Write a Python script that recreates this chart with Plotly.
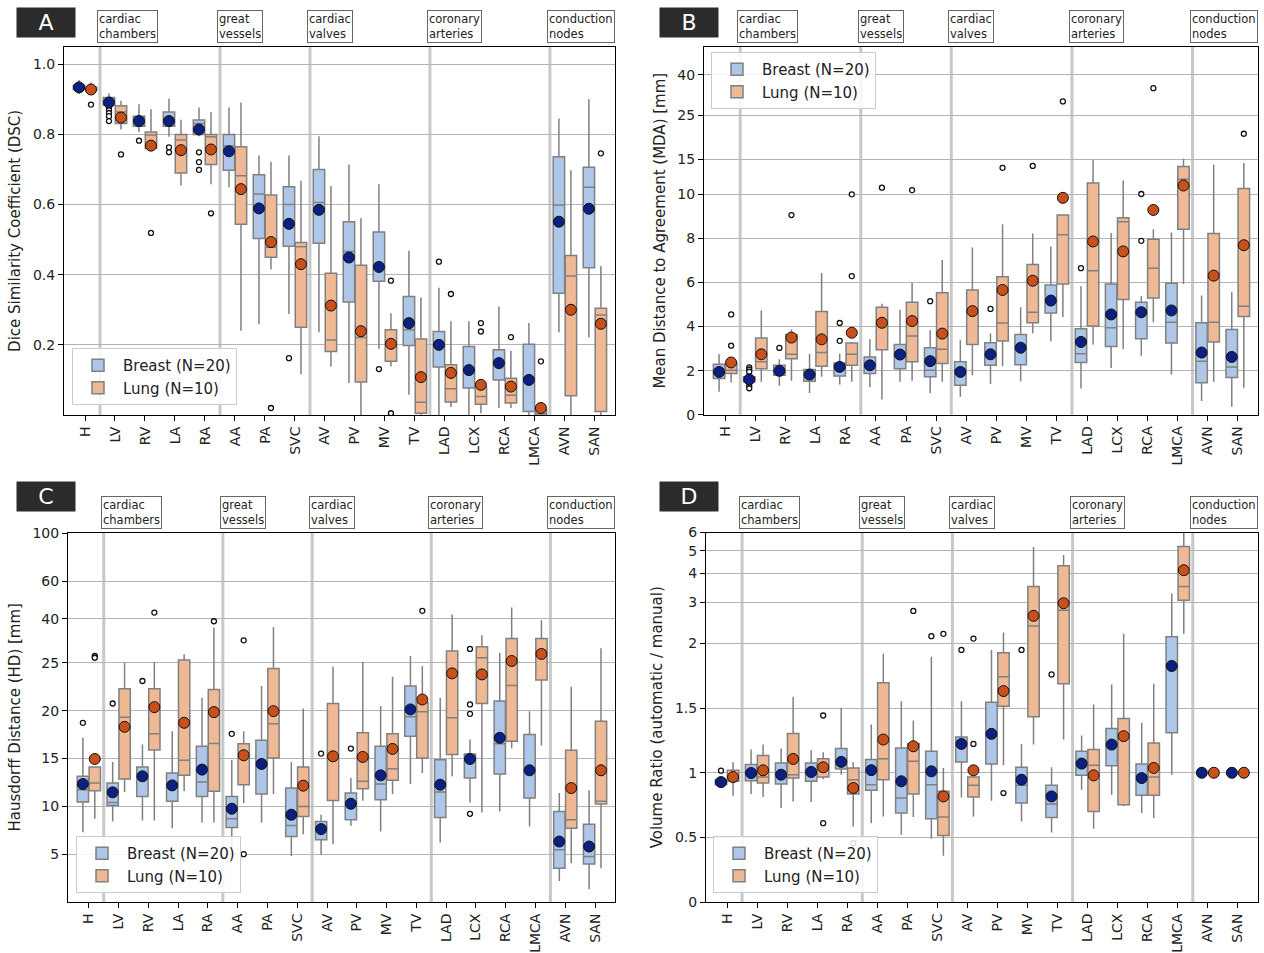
import numpy as np
import plotly.graph_objects as go

# ---------------- data ----------------
categories = ["H", "LV", "RV", "LA", "RA", "AA", "PA", "SVC", "AV", "PV", "MV", "TV",
              "LAD", "LCX", "RCA", "LMCA", "AVN", "SAN"]
group_labels = ["cardiac<br>chambers", "great<br>vessels", "cardiac<br>valves",
                "coronary<br>arteries", "conduction<br>nodes"]
group_first_index = [1, 5, 8, 12, 16]
series_names = ["Breast (N=20)", "Lung (N=10)"]

# Panel A: DSC
dsc_breast_q1 = [.928, .883, .823, .823, .800, .698, .503, .481, .490, .322, .381, .198, .137, .077, .100, .010, .347, .420]
dsc_breast_med = [.935, .895, .840, .845, .831, .767, .630, .600, .606, .466, .420, .243, .200, .128, .148, .100, .599, .649]
dsc_breast_q3 = [.940, .905, .852, .864, .841, .800, .685, .651, .700, .551, .522, .338, .238, .195, .186, .202, .736, .706]
dsc_breast_lo = [.915, .880, .807, .793, .795, .649, .259, .288, .236, .091, .188, .058, .000, .000, .020, .000, .236, .221]
dsc_breast_hi = [.955, .917, .886, .902, .877, .877, .740, .740, .795, .714, .658, .468, .363, .267, .309, .262, .845, .900]
dsc_breast_mean = [.934, .891, .838, .838, .814, .752, .589, .545, .585, .449, .422, .262, .200, .128, .148, .100, .551, .588]
dsc_breast_out = [[], [.876, .869, .861, .852, .838], [.782], [.763, .749], [.749, .721, .699], [], [], [.162],
                  [], [], [.131], [], [.437], [], [], [], [], []]

dsc_lung_q1 = [.925, .831, .760, .690, .714, .544, .450, .250, .181, .094, .153, .005, .037, .031, .034, .000, .055, .010]
dsc_lung_med = [.930, .864, .798, .784, .793, .682, .478, .480, .214, .221, .200, .036, .075, .053, .056, .005, .396, .285]
dsc_lung_q3 = [.935, .882, .807, .800, .800, .765, .627, .492, .404, .427, .243, .217, .143, .079, .105, .015, .455, .304]
dsc_lung_lo = [.918, .814, .752, .654, .658, .240, .415, .116, .138, .000, .138, .000, .023, .005, .020, .000, .000, .000]
dsc_lung_hi = [.948, .896, .872, .842, .864, .891, .722, .668, .653, .561, .290, .335, .267, .085, .183, .020, .698, .425]
dsc_lung_mean = [.928, .848, .768, .755, .757, .644, .493, .430, .312, .239, .203, .108, .120, .086, .081, .020, .300, .260]
dsc_lung_out = [[.885], [.743], [.519], [], [.575], [], [.020], [], [], [], [.383, .005], [], [.345], [.262, .238],
                [.222], [.153], [], [.746]]

# Panel B: MDA [mm]
mda_breast_q1 = [1.64, 1.49, 1.79, 1.52, 1.76, 1.87, 2.09, 1.72, 1.34, 2.24, 2.27, 4.62, 2.37, 3.10, 3.45, 3.25, 1.45, 1.69]
mda_breast_med = [1.97, 1.60, 1.99, 1.82, 2.25, 2.24, 2.73, 2.02, 1.94, 2.74, 3.04, 5.18, 2.77, 3.95, 4.65, 4.20, 2.43, 2.17]
mda_breast_q3 = [2.29, 1.72, 2.24, 2.05, 2.35, 2.62, 3.18, 3.04, 2.40, 3.27, 3.64, 5.89, 3.90, 5.93, 5.10, 5.96, 4.17, 3.87]
mda_breast_lo = [1.04, 1.42, 1.31, 0.99, 1.37, 1.24, 1.49, 0.97, 0.81, 1.39, 1.52, 3.33, 1.19, 2.12, 2.67, 1.82, 0.62, 0.36]
mda_breast_hi = [2.74, 1.85, 2.52, 2.77, 2.77, 3.42, 4.76, 3.83, 3.38, 3.68, 4.88, 7.63, 5.83, 8.24, 5.38, 8.27, 5.41, 5.56]
mda_breast_mean = [1.94, 1.60, 1.99, 1.82, 2.17, 2.24, 2.73, 2.43, 1.94, 2.74, 3.04, 5.18, 3.30, 4.55, 4.65, 4.73, 2.82, 2.62]
mda_breast_out = [[], [2.15, 2.05, 1.95, 1.30, 1.20], [3.03], [], [4.16, 3.35], [], [], [5.15], [], [4.8], [], [],
                  [6.65], [], [7.89, 10.04], [], [], []]

mda_lung_q1 = [1.87, 2.09, 2.54, 2.20, 2.24, 2.95, 2.40, 2.32, 3.18, 3.34, 4.17, 5.93, 4.02, 5.23, 5.30, 8.42, 3.30, 4.46]
mda_lung_med = [2.02, 2.40, 2.74, 2.82, 2.74, 4.10, 3.57, 2.97, 4.60, 4.16, 4.65, 8.16, 6.53, 8.75, 6.64, 11.9, 4.20, 4.92]
mda_lung_q3 = [2.35, 3.48, 3.64, 4.68, 3.25, 4.88, 5.10, 5.53, 5.66, 6.26, 6.81, 9.06, 11.4, 8.94, 7.96, 13.8, 8.22, 10.7]
mda_lung_lo = [1.46, 1.49, 1.54, 1.72, 1.49, 0.69, 1.54, 1.49, 1.79, 2.20, 3.70, 4.43, 3.18, 2.97, 4.20, 5.93, 1.49, 1.22]
mda_lung_hi = [2.45, 4.73, 3.87, 6.43, 3.30, 5.03, 5.98, 7.02, 7.59, 8.64, 8.22, 9.06, 14.9, 11.75, 8.42, 15.1, 14.1, 14.4]
mda_lung_mean = [2.37, 2.74, 3.50, 3.42, 3.72, 4.17, 4.25, 3.68, 4.70, 5.66, 6.08, 9.84, 7.86, 7.41, 9.29, 11.08, 6.31, 7.69]
mda_lung_out = [[4.55, 3.13], [], [9.06], [], [6.29, 10.0], [10.8], [10.5], [], [], [13.6], [13.9], [29.4],
                [], [], [34.3], [], [], [20.2]]

# Panel C: HD [mm]
hd_breast_q1 = [10.45, 10.10, 11.04, 10.52, 11.04, 7.79, 11.29, 6.85, 6.50, 8.60, 10.69, 17.33, 8.84, 12.96, 13.38, 10.87, 3.53, 3.98]
hd_breast_med = [11.74, 10.41, 13.14, 12.19, 12.54, 8.70, 14.43, 8.00, 7.62, 10.27, 12.33, 19.36, 11.50, 14.95, 16.53, 13.77, 5.45, 4.75]
hd_breast_q3 = [13.14, 12.44, 14.12, 13.49, 16.28, 11.04, 16.91, 11.91, 8.42, 11.39, 16.28, 22.57, 14.88, 15.48, 21.00, 17.51, 9.47, 8.14]
hd_breast_lo = [7.30, 8.42, 8.53, 7.72, 8.32, 5.70, 8.32, 4.82, 4.93, 7.97, 7.37, 12.33, 6.22, 10.41, 9.47, 7.90, 2.20, 1.33]
hd_breast_hi = [17.16, 14.64, 16.46, 17.85, 21.35, 14.88, 22.57, 14.64, 9.12, 12.96, 20.48, 26.9, 21.35, 16.98, 27.8, 19.95, 11.39, 11.67]
hd_breast_mean = [12.33, 11.46, 13.14, 12.19, 13.84, 9.75, 14.43, 9.12, 7.62, 10.27, 13.24, 20.13, 12.26, 14.95, 17.16, 13.77, 6.32, 5.80]
hd_breast_out = [[18.73], [20.75], [23.1], [], [], [17.58], [], [], [15.51], [16.04], [], [], [],
                 [29.0, 20.65, 19.67, 9.22], [], [], [], []]

hd_lung_q1 = [11.64, 12.86, 15.90, 13.24, 11.57, 12.26, 15.06, 8.94, 10.62, 11.84, 12.72, 15.06, 15.41, 20.75, 16.81, 23.2, 7.72, 10.24]
hd_lung_med = [12.44, 19.32, 17.58, 14.81, 16.56, 15.30, 18.62, 9.99, 15.00, 12.61, 13.94, 19.88, 19.25, 26.4, 22.64, 28.5, 8.60, 10.52]
hd_lung_q3 = [14.12, 22.29, 22.29, 25.8, 22.22, 16.53, 24.4, 14.12, 20.75, 17.68, 17.58, 20.82, 28.4, 29.7, 32.4, 32.4, 15.86, 18.90]
hd_lung_lo = [8.70, 11.50, 8.53, 11.57, 8.32, 10.34, 11.29, 7.09, 6.04, 10.59, 11.29, 13.49, 13.14, 9.36, 16.04, 16.35, 4.05, 3.53]
hd_lung_hi = [14.12, 25.02, 25.26, 27.4, 36.5, 17.85, 36.7, 20.23, 24.6, 25.26, 23.55, 24.67, 41.9, 33.6, 45.2, 39.4, 22.5, 29.2]
hd_lung_mean = [14.95, 18.31, 20.37, 18.73, 19.85, 15.34, 19.95, 12.16, 15.23, 15.16, 16.00, 21.17, 23.9, 23.79, 25.5, 27.5, 11.91, 13.77]
hd_lung_out = [[26.9, 26.4], [], [42.8], [], [39.0], [31.8, 5.0], [], [], [], [], [], [43.6], [], [], [], [], [], []]

# Panel D: volume ratio
vr_breast_q1 = [.908, .939, .913, .934, 1.029, .864, .688, .644, 1.084, 1.068, .765, .654, .980, 1.055, .825, 1.309, 1.0, 1.0]
vr_breast_med = [.928, .998, .985, 1.006, 1.058, .908, .804, .908, 1.223, 1.300, .903, .758, 1.071, 1.218, .959, 1.826, 1.0, 1.0]
vr_breast_q3 = [.946, 1.063, 1.076, 1.076, 1.187, 1.102, 1.192, 1.166, 1.277, 1.546, 1.042, .903, 1.166, 1.342, 1.068, 2.14, 1.0, 1.0]
vr_breast_lo = [.895, .835, .727, .773, .985, .610, .520, .489, .809, .784, .623, .538, .869, .830, .688, .985, 1.0, 1.0]
vr_breast_hi = [.960, 1.179, 1.187, 1.174, 1.502, 1.373, 1.554, 1.898, 1.554, 1.950, 1.223, 1.042, 1.288, 1.683, 1.386, 3.28, 1.0, 1.0]
vr_breast_mean = [.928, .998, .985, 1.006, 1.084, 1.020, .934, 1.011, 1.223, 1.301, .946, .817, 1.071, 1.218, .959, 1.826, 1.0, 1.0]
vr_breast_out = [[1.016], [], [], [], [], [], [], [2.15], [1.95], [], [1.95], [1.761], [], [], [], [], [], []]

vr_lung_q1 = [.934, .921, .959, .967, .835, .946, .835, .515, .812, 1.515, 1.433, 1.689, .701, .753, .825, 3.07, 1.0, 1.0]
vr_lung_med = [.960, .967, .985, 1.024, .946, 1.109, 1.089, .657, .903, 1.743, 2.38, 2.78, 1.058, 1.283, .967, 3.52, 1.0, 1.0]
vr_lung_q3 = [1.019, 1.133, 1.303, 1.109, 1.037, 1.696, 1.226, .856, .967, 1.929, 3.52, 4.32, 1.179, 1.420, 1.231, 5.23, 1.0, 1.0]
vr_lung_lo = [.822, .812, .778, .950, .584, .662, .657, .357, .662, 1.058, 1.218, 1.257, .566, .740, .649, 2.20, 1.0, 1.0]
vr_lung_hi = [1.081, 1.218, 1.588, 1.159, 1.081, 1.921, 1.404, 1.037, .967, 2.23, 5.20, 4.80, 1.528, 2.20, 1.689, 6.0, 1.0, 1.0]
vr_lung_mean = [.967, 1.019, 1.107, 1.042, .882, 1.257, 1.205, .817, 1.019, 1.632, 2.63, 2.98, .980, 1.283, 1.037, 4.13, 1.0, 1.0]
vr_lung_out = [[], [], [], [1.443, .61], [.455], [], [2.76], [2.2], [2.1, 1.223], [.843], [], [], [], [], [], [], [], []]

# ---------------- styling / layout helpers ----------------
W, H = 1264, 953
FONT = "DejaVu Sans"
box_fill = ["#aec7e8", "#efb995"]
mean_col = ["#0b2080", "#c8501a"]
box_line = "#808080"
offsets = [-0.2, 0.2]


def make_tf(t):
    def f(v):
        v = np.asarray(v, dtype=float)
        if t is None:
            return v
        return np.where(v <= t, v, t + 0.9 * t * np.log10(np.maximum(v, t) / t))
    return f


panels = [
    dict(letter="A", ax="", legend="legend", thr=None,
         xdom=[64, 615], ydom=[46.7, 415],
         title="Dice Similarity Coefficient (DSC)",
         ticks=[0.2, 0.4, 0.6, 0.8, 1.0], ticktext=["0.2", "0.4", "0.6", "0.8", "1.0"], top=1.05,
         data=[(dsc_breast_q1, dsc_breast_med, dsc_breast_q3, dsc_breast_lo, dsc_breast_hi, dsc_breast_mean, dsc_breast_out),
               (dsc_lung_q1, dsc_lung_med, dsc_lung_q3, dsc_lung_lo, dsc_lung_hi, dsc_lung_mean, dsc_lung_out)],
         leg=dict(x=72, y=405, yanchor="bottom"), letterpos=(46, 22.5)),
    dict(letter="B", ax="2", legend="legend2", thr=10,
         xdom=[704, 1258], ydom=[46.7, 414.7],
         title="Mean Distance to Agreement (MDA) [mm]",
         ticks=[0, 2, 4, 6, 8, 10, 15, 25, 40], ticktext=None, top=55.5,
         data=[(mda_breast_q1, mda_breast_med, mda_breast_q3, mda_breast_lo, mda_breast_hi, mda_breast_mean, mda_breast_out),
               (mda_lung_q1, mda_lung_med, mda_lung_q3, mda_lung_lo, mda_lung_hi, mda_lung_mean, mda_lung_out)],
         leg=dict(x=711, y=52, yanchor="top"), letterpos=(689, 22.5)),
    dict(letter="C", ax="3", legend="legend3", thr=25,
         xdom=[68, 615], ydom=[532.5, 902],
         title="Hausdorff Distance (HD) [mm]",
         ticks=[5, 10, 15, 20, 25, 40, 60, 100], ticktext=None, top=100.8,
         data=[(hd_breast_q1, hd_breast_med, hd_breast_q3, hd_breast_lo, hd_breast_hi, hd_breast_mean, hd_breast_out),
               (hd_lung_q1, hd_lung_med, hd_lung_q3, hd_lung_lo, hd_lung_hi, hd_lung_mean, hd_lung_out)],
         leg=dict(x=76, y=893, yanchor="bottom"), letterpos=(46, 496.5)),
    dict(letter="D", ax="4", legend="legend4", thr=2,
         xdom=[706, 1258], ydom=[532.5, 902],
         title="Volume Ratio (automatic / manual)",
         ticks=[0, 0.5, 1, 1.5, 2, 3, 4, 5, 6], ticktext=["0", "0.5", "1", "1.5", "2", "3", "4", "5", "6"], top=6.0,
         data=[(vr_breast_q1, vr_breast_med, vr_breast_q3, vr_breast_lo, vr_breast_hi, vr_breast_mean, vr_breast_out),
               (vr_lung_q1, vr_lung_med, vr_lung_q3, vr_lung_lo, vr_lung_hi, vr_lung_mean, vr_lung_out)],
         leg=dict(x=713, y=893, yanchor="bottom"), letterpos=(689, 496.5)),
]

fig = go.Figure()
layout = dict(width=W, height=H, margin=dict(l=0, r=0, t=0, b=0),
              plot_bgcolor="white", paper_bgcolor="white",
              font=dict(family=FONT, size=14, color="#222222"),
              boxmode="overlay", shapes=[], annotations=[])

idx = np.arange(len(categories))

for p in panels:
    f = make_tf(p["thr"])
    xa, ya = "x" + p["ax"], "y" + p["ax"]
    for s, (q1, med, q3, lo, hi, mean, outs) in enumerate(p["data"]):
        keep = [i for i in idx if not (q1[i] == q3[i] == lo[i] == hi[i])]
        kx = idx[keep] + offsets[s]
        fig.add_trace(go.Box(
            x=kx, q1=f(np.take(q1, keep)), median=f(np.take(med, keep)), q3=f(np.take(q3, keep)),
            lowerfence=f(np.take(lo, keep)), upperfence=f(np.take(hi, keep)),
            width=0.38, whiskerwidth=0, boxpoints=False,
            fillcolor=box_fill[s], line=dict(color=box_line, width=1.5),
            name=series_names[s], legend=p["legend"], showlegend=True,
            xaxis=xa, yaxis=ya, hoverinfo="skip"))
        ox = [i + offsets[s] for i, lst in enumerate(outs) for _ in lst]
        oy = [v for lst in outs for v in lst]
        fig.add_trace(go.Scatter(
            x=ox, y=f(oy), mode="markers", showlegend=False, xaxis=xa, yaxis=ya,
            marker=dict(symbol="circle", size=5, color="white", line=dict(color="#111111", width=1.3)),
            hoverinfo="skip"))
        fig.add_trace(go.Scatter(
            x=idx + offsets[s], y=f(mean), mode="markers", showlegend=False, xaxis=xa, yaxis=ya,
            marker=dict(symbol="circle", size=11, color=mean_col[s], line=dict(color="#111111", width=1)),
            hoverinfo="skip"))

    xd = [p["xdom"][0] / W, p["xdom"][1] / W]
    yd = [1 - p["ydom"][1] / H, 1 - p["ydom"][0] / H]
    ticktext = p["ticktext"] if p["ticktext"] else [str(t) for t in p["ticks"]]
    key = "" if p["ax"] == "" else p["ax"]
    layout["xaxis" + key] = dict(
        domain=xd, range=[-0.7, len(categories) - 1 + 0.67], anchor=ya,
        tickvals=list(idx), ticktext=categories, tickangle=-90,
        showgrid=False, zeroline=False, showline=True, linecolor="black", linewidth=1, mirror=True,
        ticks="outside", ticklen=5, tickcolor="black", tickfont=dict(size=14), automargin=False)
    layout["yaxis" + key] = dict(
        domain=yd, range=[0, float(f([p["top"]])[0])], anchor=xa,
        tickvals=list(f(p["ticks"])), ticktext=ticktext,
        showgrid=True, gridcolor="#b4b4b4", gridwidth=1, zeroline=False,
        showline=True, linecolor="black", linewidth=1, mirror=True,
        ticks="outside", ticklen=5, tickcolor="black", tickfont=dict(size=14),
        title=dict(text=p["title"], font=dict(size=15), standoff=8), automargin=False)

    # group separators and labels
    for gi, g0 in enumerate(group_first_index):
        layout["shapes"].append(dict(
            type="line", xref=xa, yref=ya + " domain", x0=g0 - 0.5, x1=g0 - 0.5, y0=0, y1=1,
            line=dict(color="#c8c8c8", width=3), layer="below"))
        layout["annotations"].append(dict(
            xref=xa, yref="paper", x=g0 - 0.5, y=yd[1], xanchor="left", yanchor="bottom",
            xshift=-3, yshift=4, text=group_labels[gi], align="left", showarrow=False,
            font=dict(size=11.5, color="#222222"), bgcolor="white",
            bordercolor="#666666", borderwidth=1, borderpad=1))

    # panel letter
    lx, ly = p["letterpos"]
    layout["annotations"].append(dict(
        xref="paper", yref="paper", x=lx / W, y=1 - ly / H, xanchor="center", yanchor="middle",
        text=p["letter"], showarrow=False, font=dict(size=22, color="white"),
        bgcolor="#2b2b2b", width=54, height=25, borderpad=2))

    lg = p["leg"]
    layout[p["legend"]] = dict(
        x=lg["x"] / W, y=1 - lg["y"] / H, xanchor="left", yanchor=lg["yanchor"],
        bgcolor="rgba(255,255,255,0.85)", bordercolor="#cccccc", borderwidth=1,
        font=dict(size=15, color="#222222"), tracegroupgap=2, itemwidth=40)

fig.update_layout(**layout)
fig.write_html("out.html", config={"displayModeBar": False},
               post_script="document.body.style.margin='0';")
